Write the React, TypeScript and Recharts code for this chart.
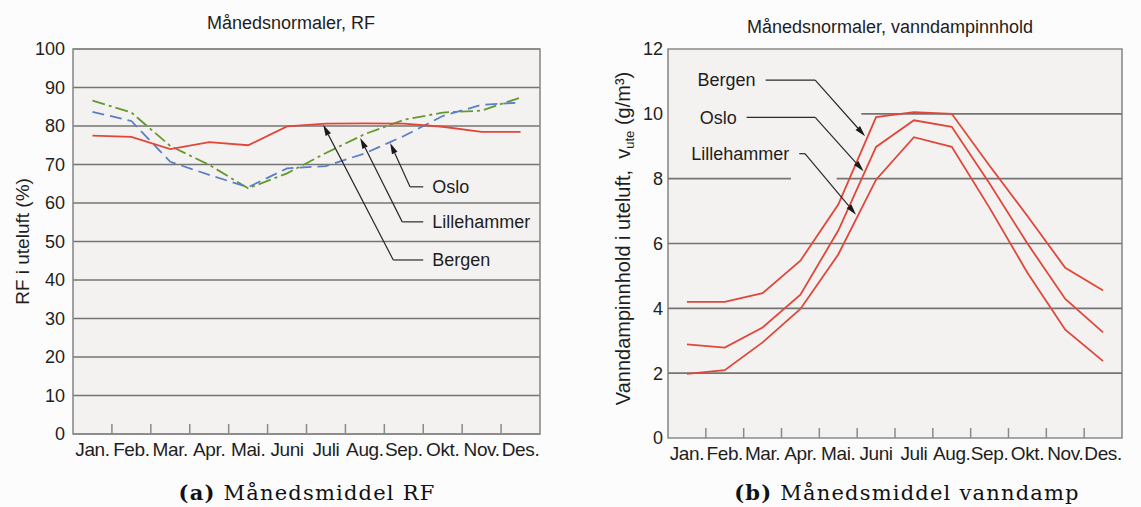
import { CartesianGrid, Line, LineChart, ReferenceArea, ReferenceLine, XAxis, YAxis } from 'recharts';

const months = ['Jan.', 'Feb.', 'Mar.', 'Apr.', 'Mai.', 'Juni', 'Juli', 'Aug.', 'Sep.', 'Okt.', 'Nov.', 'Des.'];

// monthly normals, relative humidity (%)
const rfBergen = [77.5, 77.2, 74, 75.8, 75, 79.9, 80.6, 80.7, 80.6, 79.8, 78.5, 78.5];
const rfOslo = [83.7, 81.3, 70.7, 67.3, 64.1, 69, 69.6, 72.9, 77.4, 82.6, 85.5, 86.1];
const rfLillehammer = [86.6, 83.5, 74.8, 69.9, 63.8, 67.7, 73, 77.9, 81.6, 83.5, 84, 87.4];

// monthly normals, water vapour content (g/m3)
const vBergen = [4.2, 4.2, 4.47, 5.47, 7.2, 9.9, 10.05, 10.0, 8.4, 6.85, 5.25, 4.55];
const vOslo = [2.89, 2.79, 3.41, 4.42, 6.4, 8.98, 9.8, 9.6, 7.85, 6.0, 4.29, 3.26];
const vLillehammer = [1.98, 2.09, 2.95, 3.98, 5.66, 7.97, 9.28, 8.98, 7.1, 5.1, 3.34, 2.37];

const rfTicks = [0, 10, 20, 30, 40, 50, 60, 70, 80, 90, 100];
const vTicks = [0, 2, 4, 6, 8, 10, 12];

// pos = centre of each month on a continuous 0..12 year axis
const rfData = months.map((m, i) => ({ month: m, pos: i + 0.5, bergen: rfBergen[i], oslo: rfOslo[i], lillehammer: rfLillehammer[i] }));
const vData = months.map((m, i) => ({ month: m, pos: i + 0.5, bergen: vBergen[i], oslo: vOslo[i], lillehammer: vLillehammer[i] }));

// leader lines for the station names, in 0..12 year-axis units
// [label, text edge x, elbow x, level y, tip x, tip y]
const rfLeaders: [string, number, number, number, number, number][] = [
  ['Oslo', 9.0, 8.66, 64.2, 8.15, 75.6],
  ['Lillehammer', 9.0, 8.46, 55.1, 7.38, 76.9],
  ['Bergen', 9.0, 8.23, 45.2, 6.43, 80.3],
];
const vLeaders: [string, number, number, number, number, number][] = [
  ['Bergen', 2.58, 3.89, 11.04, 5.21, 9.31],
  ['Oslo', 2.08, 3.89, 9.89, 5.17, 8.23],
  ['Lillehammer', 3.47, 3.62, 8.77, 4.97, 6.89],
];

// grid lines in the right panel are broken where the names sit
const vGrid: [number, number, number][] = [
  [2, 0, 12],
  [4, 0, 12],
  [6, 0, 12],
  [8, 0, 3.25],
  [8, 4.46, 12],
  [10, 5.11, 12],
];

const FONT = '"Liberation Sans", Arial, sans-serif';
const INK = '#1e1e1e';
const GRID = '#747474';
const FRAME = '#8a8a8a';
const PLOT_BG = '#f4f2f0';
const RED = '#e0473a';
const BLUE = '#5b7fc6';
const GREEN = '#629a2e';

const monthTick = (band: number) => (props: any) => {
  const { x, y, payload, index } = props;
  return (
    <g>
      {index > 0 && (
        <line x1={x - band / 2} x2={x - band / 2} y1={y - 10} y2={y} stroke={FRAME} strokeWidth={1.5} />
      )}
      <text x={x} y={y + 22} textAnchor="middle" fontSize={19} letterSpacing={-0.4} fontFamily={FONT} fill={INK}>
        {payload.value}
      </text>
    </g>
  );
};

const nameLine = (name: string) => (props: any) => {
  const { x1, y1, x2, y2 } = props;
  const toLeft = x1 < x2;
  return (
    <g>
      <line x1={x1} y1={y1} x2={x2} y2={y2} stroke="#2a2a2a" strokeWidth={1.2} />
      <text
        x={toLeft ? x1 - 10 : x1 + 9}
        y={y1}
        dy="0.35em"
        textAnchor={toLeft ? 'end' : 'start'}
        fontSize={18}
        fontFamily={FONT}
        fill={INK}
      >
        {name}
      </text>
    </g>
  );
};

const arrowLine = (props: any) => {
  const { x1, y1, x2, y2 } = props;
  const len = Math.hypot(x2 - x1, y2 - y1) || 1;
  const ux = (x2 - x1) / len;
  const uy = (y2 - y1) / len;
  const hl = 11;
  const hw = 3;
  const bx = x2 - ux * hl;
  const by = y2 - uy * hl;
  return (
    <g>
      <line x1={x1} y1={y1} x2={bx} y2={by} stroke="#2a2a2a" strokeWidth={1.2} />
      <polygon
        points={`${x2},${y2} ${bx - uy * hw},${by + ux * hw} ${bx + uy * hw},${by - ux * hw}`}
        fill="#1a1a1a"
      />
    </g>
  );
};

const renderLeaders = (leaders: [string, number, number, number, number, number][]) =>
  leaders.flatMap(([name, tx, ex, ly, px, py]) => [
    <ReferenceLine
      key={name + '-h'}
      xAxisId="n"
      segment={[{ x: tx, y: ly }, { x: ex, y: ly }]}
      shape={nameLine(name)}
      ifOverflow="visible"
    />,
    <ReferenceLine
      key={name + '-a'}
      xAxisId="n"
      segment={[{ x: ex, y: ly }, { x: px, y: py }]}
      shape={arrowLine}
      ifOverflow="visible"
    />,
  ]);

const rfAxisLabel = (props: any) => {
  const { viewBox } = props;
  const cy = viewBox.y + viewBox.height / 2;
  return (
    <text
      x={22}
      y={cy}
      transform={`rotate(-90, 22, ${cy})`}
      textAnchor="middle"
      dy="0.35em"
      fontSize={19}
      fontFamily={FONT}
      fill={INK}
    >
      RF i uteluft (%)
    </text>
  );
};

const vAxisLabel = (props: any) => {
  const { viewBox } = props;
  const cy = viewBox.y + viewBox.height / 2 - 5;
  return (
    <text
      x={43}
      y={cy}
      transform={`rotate(-90, 43, ${cy})`}
      textAnchor="middle"
      dy="0.35em"
      fontSize={20}
      fontFamily={FONT}
      fill={INK}
    >
      Vanndampinnhold i uteluft,{'\u00a0\u00a0'}v
      <tspan fontSize={13} dy={4}>ute</tspan>
      <tspan dy={-4}>{'\u00a0'}(g/m³)</tspan>
    </text>
  );
};

const titleStyle = (center: number, top: number): React.CSSProperties => ({
  position: 'absolute',
  left: center - 200,
  width: 400,
  top,
  textAlign: 'center',
  fontFamily: FONT,
  fontSize: 18,
  color: INK,
  lineHeight: '20px',
});

const captionStyle = (center: number): React.CSSProperties => ({
  position: 'absolute',
  left: center - 250,
  width: 500,
  top: 480,
  textAlign: 'center',
  fontFamily: '"DejaVu Serif", "Liberation Serif", serif',
  fontSize: 21,
  letterSpacing: 1.2,
  color: '#111',
  lineHeight: '26px',
});

export default function App() {
  return (
    <div style={{ position: 'absolute', left: 0, top: 0, width: 1141, height: 507, background: '#fcfcfc', overflow: 'hidden' }}>
      <div style={titleStyle(291, 13)}>Månedsnormaler, RF</div>
      <div style={titleStyle(890, 17)}>Månedsnormaler, vanndampinnhold</div>

      <div style={{ position: 'absolute', left: 0, top: 0 }}>
        <LineChart width={560} height={470} data={rfData} margin={{ top: 49, right: 20, bottom: 0, left: 13 }}>
          <CartesianGrid xAxisId="m" vertical={false} stroke={GRID} strokeWidth={1.6} fill={PLOT_BG} fillOpacity={1} />
          <XAxis
            xAxisId="m"
            dataKey="month"
            scale="point"
            padding={{ left: 19.46, right: 19.46 }}
            height={36}
            axisLine={false}
            tickLine={false}
            tickSize={0}
            tickMargin={0}
            interval={0}
            tick={monthTick(38.92)}
          />
          <XAxis xAxisId="n" dataKey="pos" type="number" domain={[0, 12]} allowDataOverflow hide />
          <YAxis
            domain={[0, 100]}
            ticks={rfTicks}
            width={60}
            axisLine={false}
            tickLine={false}
            tickSize={0}
            tickMargin={8}
            tick={{ fontSize: 18, fontFamily: FONT, fill: INK }}
            label={rfAxisLabel}
          />
          <ReferenceArea xAxisId="n" x1={0} x2={12} y1={0} y2={100} fill="none" fillOpacity={0} stroke={FRAME} strokeWidth={1.6} ifOverflow="visible" />
          <Line xAxisId="m" dataKey="lillehammer" stroke={GREEN} strokeWidth={1.8} strokeDasharray="13 4 3 4" dot={false} isAnimationActive={false} />
          <Line xAxisId="m" dataKey="oslo" stroke={BLUE} strokeWidth={1.8} strokeDasharray="12 6" dot={false} isAnimationActive={false} />
          <Line xAxisId="m" dataKey="bergen" stroke={RED} strokeWidth={1.8} dot={false} isAnimationActive={false} />
          {renderLeaders(rfLeaders)}
        </LineChart>
      </div>

      <div style={{ position: 'absolute', left: 580, top: 0 }}>
        <LineChart width={561} height={470} data={vData} margin={{ top: 49, right: 19, bottom: 0, left: 28 }}>
          <CartesianGrid xAxisId="m" vertical={false} horizontal={false} fill={PLOT_BG} fillOpacity={1} />
          <XAxis
            xAxisId="m"
            dataKey="month"
            scale="point"
            padding={{ left: 18.92, right: 18.92 }}
            height={32}
            axisLine={false}
            tickLine={false}
            tickSize={0}
            tickMargin={0}
            interval={0}
            tick={monthTick(37.83)}
          />
          <XAxis xAxisId="n" dataKey="pos" type="number" domain={[0, 12]} allowDataOverflow hide />
          <YAxis
            domain={[0, 12]}
            ticks={vTicks}
            width={60}
            axisLine={false}
            tickLine={false}
            tickSize={0}
            tickMargin={5}
            tick={{ fontSize: 18, fontFamily: FONT, fill: INK }}
            label={vAxisLabel}
          />
          {vGrid.map(([y, a, b]) => (
            <ReferenceLine
              key={`${y}-${a}`}
              xAxisId="n"
              segment={[{ x: a, y }, { x: b, y }]}
              stroke={GRID}
              strokeWidth={1.6}
              ifOverflow="visible"
            />
          ))}
          <ReferenceArea xAxisId="n" x1={0} x2={12} y1={0} y2={12} fill="none" fillOpacity={0} stroke={FRAME} strokeWidth={1.6} ifOverflow="visible" />
          <Line xAxisId="m" dataKey="bergen" stroke={RED} strokeWidth={1.8} dot={false} isAnimationActive={false} />
          <Line xAxisId="m" dataKey="oslo" stroke={RED} strokeWidth={1.8} dot={false} isAnimationActive={false} />
          <Line xAxisId="m" dataKey="lillehammer" stroke={RED} strokeWidth={1.8} dot={false} isAnimationActive={false} />
          {renderLeaders(vLeaders)}
        </LineChart>
      </div>

      <div style={captionStyle(307)}>
        <b>(a)</b> Månedsmiddel RF
      </div>
      <div style={captionStyle(907)}>
        <b>(b)</b> Månedsmiddel vanndamp
      </div>
    </div>
  );
}
